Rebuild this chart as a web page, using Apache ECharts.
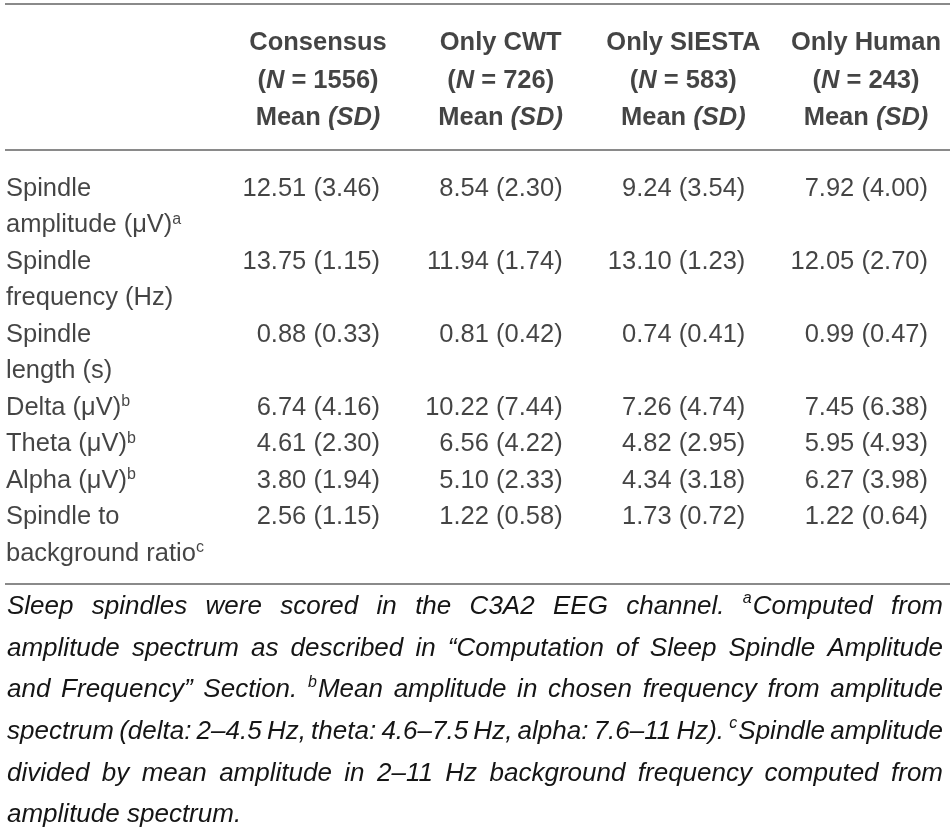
<!DOCTYPE html>
<html>
<head>
<meta charset="utf-8">
<script src="https://cdn.jsdelivr.net/npm/echarts@6/dist/echarts.min.js"></script>
<style>
  html, body { margin: 0; padding: 0; background: #fff; }
  #main { width: 950px; height: 834px; }
</style>
</head>
<body>
<div id="main"></div>
<script>
// table content
const groups = ['Consensus', 'Only CWT', 'Only SIESTA', 'Only Human'];
const groupN = [1556, 726, 583, 243];
const rowLabels = [
  ['Spindle', 'amplitude (μV){sup|a}'],
  ['Spindle', 'frequency (Hz)'],
  ['Spindle', 'length (s)'],
  ['Delta (μV){sup|b}'],
  ['Theta (μV){sup|b}'],
  ['Alpha (μV){sup|b}'],
  ['Spindle to', 'background ratio{sup|c}']
];
const consensusMean = [12.51, 13.75, 0.88, 6.74, 4.61, 3.80, 2.56];
const consensusSD   = [3.46, 1.15, 0.33, 4.16, 2.30, 1.94, 1.15];
const cwtMean       = [8.54, 11.94, 0.81, 10.22, 6.56, 5.10, 1.22];
const cwtSD         = [2.30, 1.74, 0.42, 7.44, 4.22, 2.33, 0.58];
const siestaMean    = [9.24, 13.10, 0.74, 7.26, 4.82, 4.34, 1.73];
const siestaSD      = [3.54, 1.23, 0.41, 4.74, 2.95, 3.18, 0.72];
const humanMean     = [7.92, 12.05, 0.99, 7.45, 5.95, 6.27, 1.22];
const humanSD       = [4.00, 2.70, 0.47, 6.38, 4.93, 3.98, 0.64];
const noteLines = [
  'Sleep spindles were scored in the C3A2 EEG channel. ^aComputed from',
  'amplitude spectrum as described in “Computation of Sleep Spindle Amplitude',
  'and Frequency” Section. ^bMean amplitude in chosen frequency from amplitude',
  'spectrum (delta: 2–4.5 Hz, theta: 4.6–7.5 Hz, alpha: 7.6–11 Hz). ^cSpindle amplitude',
  'divided by mean amplitude in 2–11 Hz background frequency computed from',
  'amplitude spectrum.'
];

const meanCols = [consensusMean, cwtMean, siestaMean, humanMean];
const sdCols = [consensusSD, cwtSD, siestaSD, humanSD];

const FONT = '"Liberation Sans", Arial, sans-serif';
const INK = '#151515';
const lineStep = 36.5;
const yMin = -5, yMax = 12;

// each row label is centred on the block of lines it uses, values sit on its first line
let start = 0;
const labelData = [];
const valueData = [];
rowLabels.forEach((lines, r) => {
  const mid = start + (lines.length - 1) / 2;
  const fmt = lines.map(l => {
    const i = l.indexOf('{sup');
    return i < 0 ? '{t|' + l + '}' : '{t|' + l.slice(0, i) + '}' + l.slice(i);
  }).join('\n');
  labelData.push({ value: [0, mid], label: { formatter: fmt } });
  meanCols.forEach((col, c) => {
    valueData.push({ value: [c + 1, start], text: col[r].toFixed(2) + ' (' + sdCols[c][r].toFixed(2) + ')' });
  });
  start += lines.length;
});

const headerData = groups.map((g, c) => ({
  value: [c + 1, -3],
  label: { formatter: '{b|' + g + '}\n{b|(}{bi|N}{b| = ' + groupN[c] + ')}\n{b|Mean }{bi|(SD)}' }
}));

// footnote, justified word by word
const ctx = document.createElement('canvas').getContext('2d');
const noteFont = 'italic 26px ' + FONT;
const supFont = 'italic 16px ' + FONT;
function measure(font, s) { ctx.font = font; return ctx.measureText(s).width; }
const noteLeft = 7, noteRight = 943, noteTop = 607, noteStep = 41.6;
const graphics = [
  { type: 'rect', left: 5, top: 3, shape: { width: 945, height: 2 }, style: { fill: '#8a8a8a' } },
  { type: 'rect', left: 5, top: 149, shape: { width: 945, height: 2 }, style: { fill: '#8a8a8a' } },
  { type: 'rect', left: 5, top: 583, shape: { width: 945, height: 2 }, style: { fill: '#8a8a8a' } }
];
noteLines.forEach((line, i) => {
  const words = line.split(' ');
  const y = noteTop + i * noteStep;
  const widths = words.map(w => w.startsWith('^')
    ? measure(supFont, w[1]) + 1 + measure(noteFont, w.slice(2))
    : measure(noteFont, w));
  const total = widths.reduce((a, b) => a + b, 0);
  const last = i === noteLines.length - 1;
  const gap = last ? measure(noteFont, ' ') : (noteRight - noteLeft - total) / (words.length - 1);
  let x = noteLeft;
  words.forEach((w, j) => {
    const base = { fill: INK, textVerticalAlign: 'middle', verticalAlign: 'middle', textAlign: 'left', align: 'left' };
    if (w.startsWith('^')) {
      graphics.push({ type: 'text', x: x, y: y - 8, style: Object.assign({ text: w[1], font: supFont }, base) });
      graphics.push({ type: 'text', x: x + measure(supFont, w[1]) + 1, y: y, style: Object.assign({ text: w.slice(2), font: noteFont }, base) });
    } else {
      graphics.push({ type: 'text', x: x, y: y, style: Object.assign({ text: w, font: noteFont }, base) });
    }
    x += widths[j] + gap;
  });
});

const chart = echarts.init(document.getElementById('main'), null, { renderer: 'canvas' });
const gridTop = 188.5 - (0 - yMin) * lineStep;
const gridHeight = (yMax - yMin) * lineStep;
const txt = { fontFamily: FONT, fontSize: 25.5, color: INK, lineHeight: lineStep };

chart.setOption({
  backgroundColor: '#ffffff',
  animation: false,
  grid: [
    { left: 6, width: 180, top: gridTop, height: gridHeight },
    { left: 197.33, right: 22, top: gridTop, height: gridHeight }
  ],
  xAxis: [
    { gridIndex: 0, type: 'value', min: 0, max: 1, show: false },
    { gridIndex: 1, type: 'value', min: 0, max: 4, show: false }
  ],
  yAxis: [
    { gridIndex: 0, type: 'value', min: yMin, max: yMax, inverse: true, show: false },
    { gridIndex: 1, type: 'value', min: yMin, max: yMax, inverse: true, show: false }
  ],
  series: [
    {
      type: 'scatter', xAxisIndex: 0, yAxisIndex: 0, symbolSize: 0, silent: true,
      data: labelData,
      label: {
        show: true, position: 'right', distance: 0, align: 'left',
        rich: {
          t: txt,
          sup: { fontFamily: FONT, fontSize: 16, color: INK, padding: [0, 0, 11, 0] }
        }
      }
    },
    {
      type: 'scatter', xAxisIndex: 1, yAxisIndex: 1, symbolSize: 0, silent: true,
      data: valueData,
      label: {
        show: true, position: 'left', distance: 0,
        fontFamily: FONT, fontSize: 25.5, color: INK,
        formatter: p => p.data.text
      }
    },
    {
      type: 'scatter', xAxisIndex: 1, yAxisIndex: 1, symbolSize: 0, silent: true,
      data: headerData,
      label: {
        show: true, position: 'inside', offset: [-62, 1.5], align: 'center',
        rich: {
          b: { fontFamily: FONT, fontSize: 25.5, fontWeight: 'bold', color: INK, lineHeight: 37.5 },
          bi: { fontFamily: FONT, fontSize: 25.5, fontWeight: 'bold', fontStyle: 'italic', color: INK, lineHeight: 37.5 }
        }
      }
    }
  ],
  graphic: graphics
});
</script>
</body>
</html>
